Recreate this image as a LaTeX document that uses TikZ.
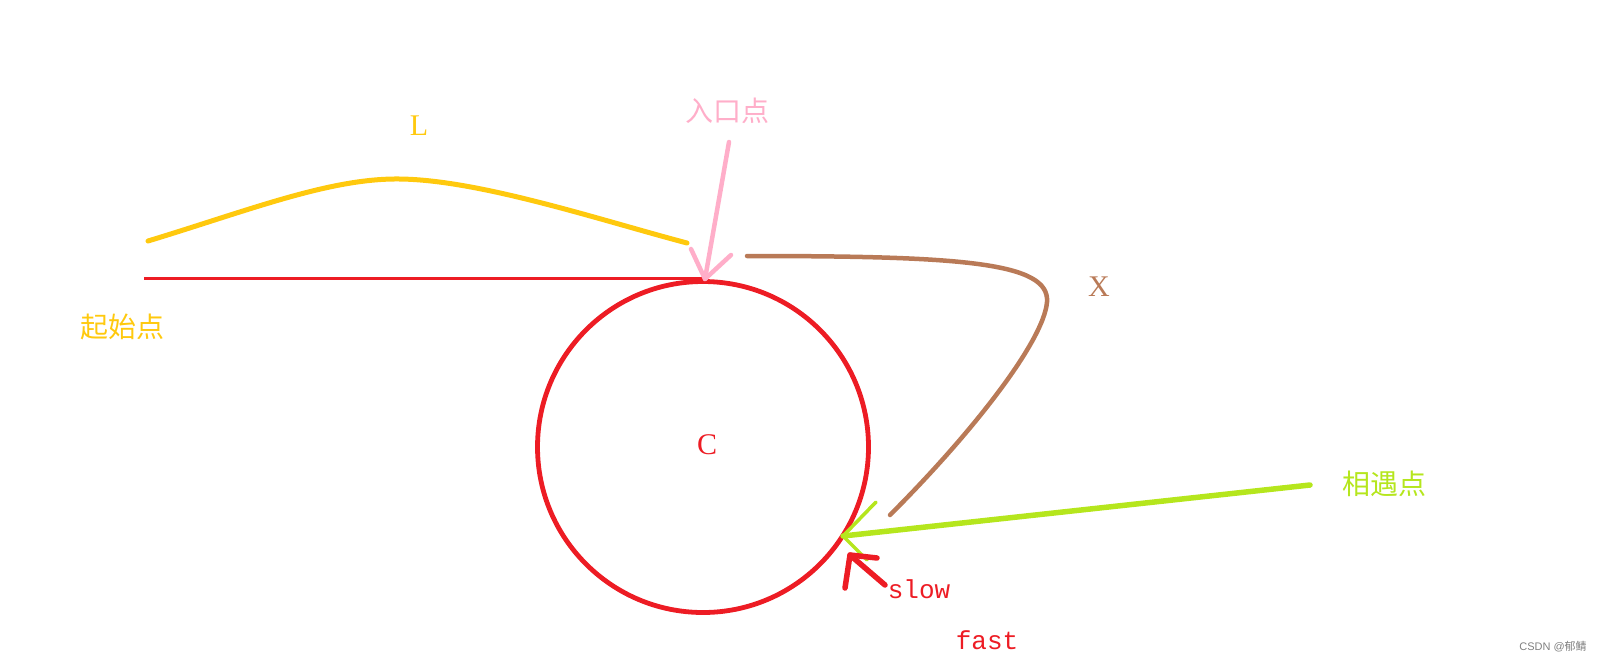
\documentclass[tikz,border=0pt]{standalone}
\usepackage{fontspec}
\setmainfont{Liberation Serif}
\setmonofont{Liberation Mono}
\setsansfont{Liberation Sans}
\newfontfamily\cjk{Noto Sans CJK SC}
\usepackage{tikz}

\definecolor{paintred}{HTML}{ED1C24}
\definecolor{paintgold}{HTML}{FFC90E}
\definecolor{paintrose}{HTML}{FFAEC9}
\definecolor{paintbrown}{HTML}{B97A57}
\definecolor{paintlime}{HTML}{B5E61D}

\tikzset{
  % Stile per i tratti a mano libera
  hand line/.style={line width=#1, line cap=round, line join=round},
  hand line/.default=4.5pt,
  % Stile per le etichette latine
  latin label/.style={inner sep=0pt, font=\fontsize{30}{32}\selectfont},
  % Stile per le etichette cinesi
  cjk label/.style={inner sep=0pt, font=\cjk\fontsize{28}{30}\selectfont},
  % Stile per slow e fast
  mono label/.style={inner sep=0pt, font=\ttfamily\fontsize{26}{28}\selectfont, text=paintred}
}

\begin{document}
\begin{tikzpicture}[x=1pt, y=-1pt]
    \useasboundingbox (0,0) rectangle (1602,662);

    % Anello
    \node[draw=paintred, line width=4.8pt, circle, inner sep=0pt, minimum size=331pt] (ring) at (703,447) {};
    \node[latin label, text=paintred] (cycle) at (707,445) {C};

    % Linea di partenza e curva L
    \coordinate (start) at (144,278);
    \draw[paintred, line width=3pt] (start) -- (start -| ring.north);
    \coordinate (lstart) at (148,241);
    \coordinate (lend) at (687,243);
    \draw[paintgold, hand line=5pt] (lstart) .. controls (250,210) and (330,178) .. (400,179)
        .. controls (480,180) and (600,220) .. (lend);
    \node[latin label, text=paintgold] (llabel) at (419,126) {L};
    \node[cjk label, text=paintgold] (startlabel) at (122,327) {起始点};

    % Freccia del punto di ingresso
    \node[cjk label, text=paintrose] (entrylabel) at (727,111) {入口点};
    \coordinate (entrytail) at (729,142);
    \coordinate (entrytip) at (705,279);
    \coordinate (entrybarba) at (691,249);
    \coordinate (entrybarbb) at (731,255);
    \draw[paintrose, hand line] (entrytail) -- (entrytip);
    \draw[paintrose, hand line] (entrybarba) -- (entrytip) -- (entrybarbb);

    % Tratto X
    \coordinate (xstart) at (747,256);
    \coordinate (xend) at (890,515);
    \draw[paintbrown, hand line] (xstart) .. controls (960,256) and (1050,262) .. (1047,302)
        .. controls (1044,340) and (975,430) .. (xend);
    \node[latin label, text=paintbrown] (xlabel) at (1099,287) {X};

    % Freccia del punto di incontro
    \node[cjk label, text=paintlime] (meetlabel) at (1384,484) {相遇点};
    \coordinate (meettail) at (1310,485);
    \coordinate (meettip) at (843,536);
    \coordinate (meetbarba) at (876,502);
    \coordinate (meetbarbb) at (867,560);
    \draw[paintlime, hand line=5.5pt] (meettail) -- (meettip);
    \draw[paintlime, hand line=3.5pt] (meetbarba) -- (meettip) -- (meetbarbb);

    % Freccia slow
    \coordinate (slowtail) at (885,585);
    \coordinate (slowtip) at (850,555);
    \coordinate (slowbarba) at (845,588);
    \coordinate (slowbarbb) at (877,558);
    \draw[paintred, hand line=5.5pt] (slowtail) -- (slowtip);
    \draw[paintred, hand line=5.5pt] (slowbarba) -- (slowtip) -- (slowbarbb);
    \node[mono label] (slowlabel) at (919,589) {slow};
    \node[mono label] (fastlabel) at (987,640) {fast};

    % Filigrana
    \node[inner sep=0pt, text=gray, font=\sffamily\fontsize{11}{12}\selectfont] (mark) at (1553,647) {CSDN @{\cjk 郁鲭}};
\end{tikzpicture}
\end{document}
